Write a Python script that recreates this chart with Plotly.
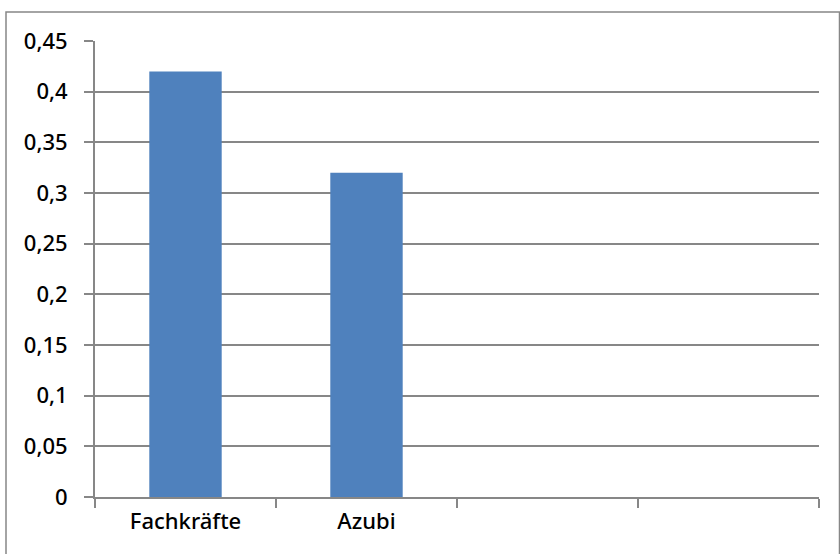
import plotly.graph_objects as go

categories = ["Fachkräfte", "Azubi", "", " "]
values = [0.42, 0.32, None, None]
y_ticks = [0, 0.05, 0.1, 0.15, 0.2, 0.25, 0.3, 0.35, 0.4, 0.45]

GRID = "#878787"
FONT = dict(family="Noto Sans", size=22, color="#000000", weight=500)

fig = go.Figure()
fig.add_trace(go.Bar(x=categories, y=values, marker=dict(color="#4F81BD", line=dict(width=0)),
                     hoverinfo="skip"))

L, R, T, B = 95, 21, 41, 57
W, H = 840, 554
pw, ph = W - L - R, H - T - B

fig.update_layout(
    width=W, height=H,
    margin=dict(l=L, r=R, t=T, b=B, pad=0),
    paper_bgcolor="white", plot_bgcolor="white",
    separators=",.",
    bargap=0.6,
    showlegend=False,
    font=FONT,
    xaxis=dict(type="category", categoryorder="array", categoryarray=categories,
               tickson="boundaries", ticks="outside", ticklen=9, tickcolor=GRID, tickwidth=2,
               showline=True, linecolor=GRID, linewidth=2, showgrid=False,
               tickfont=FONT, ticklabelstandoff=4),
    yaxis=dict(range=[0, 0.45], tickvals=y_ticks, ticks="outside", ticklen=9,
               tickcolor=GRID, tickwidth=2, showline=True, linecolor=GRID, linewidth=2,
               showgrid=True, gridcolor=GRID, gridwidth=2, zeroline=False,
               tickfont=FONT, ticklabelstandoff=12),
)

# outer chart border
fig.add_shape(type="rect", xref="paper", yref="paper",
              x0=(6 - L) / pw, x1=(839.5 - L) / pw,
              y0=-(H + 10 - (H - B)) / ph, y1=((H - B) - 12) / ph,
              line=dict(color=GRID, width=1.5), fillcolor="rgba(0,0,0,0)", layer="below")

fig.write_html("out.html")
